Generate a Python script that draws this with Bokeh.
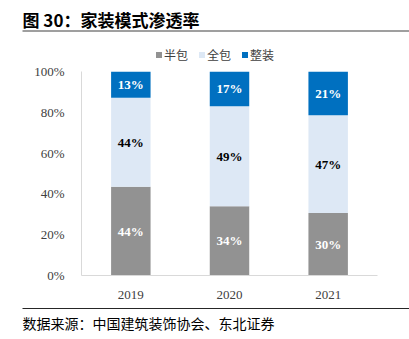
from bokeh.plotting import figure
from bokeh.models import (ColumnDataSource, Range1d, PrintfTickFormatter, FixedTicker)
from bokeh.core.properties import value
from bokeh.embed import file_html
from bokeh.resources import INLINE

years = ["2019", "2020", "2021"]
banbao = [44, 34, 30]      # 半包
quanbao = [44, 49, 47]     # 全包
zhengzhuang = [13, 17, 21] # 整装
series_names = ["半包", "全包", "整装"]
colors = ["#929292", "#dde8f5", "#0070c0"]
title_text = "图 30：家装模式渗透率"
source_text = "数据来源：中国建筑装饰协会、东北证券"

W, H = 409, 339
FL, FR, FT, FB = 81, 377, 71, 275  # frame edges in page pixels

xs = [i + 0.5 for i in range(len(years))]  # category centres
p = figure(x_range=Range1d(0, len(years)), y_range=Range1d(0, 100),
           width=W, height=H, output_backend="svg", toolbar_location=None,
           min_border_left=FL, min_border_right=W - FR, min_border_top=FT, min_border_bottom=H - FB)
p.outline_line_color = None
# page-pixel coordinate system for the header/footer decorations
p.extra_x_ranges = {"px": Range1d(FL, FR)}
p.extra_y_ranges = {"py": Range1d(FB, FT)}

tot = [a + b + c for a, b, c in zip(banbao, quanbao, zhengzhuang)]
s1 = [100 * a / t for a, t in zip(banbao, tot)]
s2 = [100 * b / t for b, t in zip(quanbao, tot)]
s3 = [100 * c / t for c, t in zip(zhengzhuang, tot)]
b1 = [0] * 3
t1 = s1
t2 = [a + b for a, b in zip(s1, s2)]
t3 = [a + b for a, b in zip(t2, s3)]

src = ColumnDataSource(dict(x=xs, b1=b1, t1=t1, t2=t2, t3=t3,
                            m1=[(a + b) / 2 for a, b in zip(b1, t1)],
                            m2=[(a + b) / 2 for a, b in zip(t1, t2)],
                            m3=[(a + b) / 2 for a, b in zip(t2, t3)],
                            l1=[f"{v}%" for v in banbao],
                            l2=[f"{v}%" for v in quanbao],
                            l3=[f"{v}%" for v in zhengzhuang]))

p.vbar(x="x", bottom="b1", top="t1", width=0.4, color=colors[0], line_color=None, source=src)
p.vbar(x="x", bottom="t1", top="t2", width=0.4, color=colors[1], line_color=None, source=src)
p.vbar(x="x", bottom="t2", top="t3", width=0.4, color=colors[2], line_color=None, source=src)

for ycol, lcol, c in [("m1", "l1", "white"), ("m2", "l2", "black"), ("m3", "l3", "white")]:
    p.text(x="x", y=ycol, text=lcol, source=src, text_align="center", text_baseline="middle",
           text_font=value("Liberation Serif"), text_font_style="bold", text_font_size="13px",
           text_color=c)

p.xgrid.grid_line_color = None
p.ygrid.grid_line_color = None
for ax in (p.xaxis[0], p.yaxis[0]):
    ax.axis_line_color = "#d9d9d9"
    ax.major_tick_line_color = None
    ax.minor_tick_line_color = None
    ax.major_label_text_font = "Liberation Serif"
    ax.major_label_text_font_size = "13px"
    ax.major_label_text_color = "#404040"
p.xaxis.ticker = FixedTicker(ticks=xs)
p.xaxis.major_label_overrides = {x: y for x, y in zip(xs, years)}
p.yaxis.ticker = FixedTicker(ticks=[0, 20, 40, 60, 80, 100])
p.yaxis.formatter = PrintfTickFormatter(format="%d%%")
p.yaxis.major_label_standoff = 11
p.xaxis.major_label_standoff = 9

deco = dict(x_range_name="px", y_range_name="py", level="overlay")

# header: title and rule
p.text(x=[22], y=[19], text=[title_text], text_font=value("Noto Sans CJK SC"),
       text_font_style="bold", text_font_size="17px", text_baseline="middle", text_color="black", **deco)
p.segment(x0=[22], y0=[30.5], x1=[W], y1=[30.5], line_color="#7f7f7f", line_width=1.5, **deco)

# legend
leg_x = [158.5, 201.5, 244.5]
p.rect(x=leg_x, y=[54.5] * 3, width=6, height=6, color=colors, line_color=None, **deco)
p.text(x=[x + 5 for x in leg_x], y=[54] * 3, text=series_names, text_font=value("Noto Sans CJK SC"),
       text_font_size="12px", text_baseline="middle", text_color="#404040", **deco)

# footer: rule and source
p.segment(x0=[22], y0=[308], x1=[W], y1=[308], line_color="#262626", line_width=1, **deco)
p.text(x=[22], y=[322.5], text=[source_text], text_font=value("Noto Sans CJK SC"),
       text_font_size="14px", text_baseline="middle", text_color="black", **deco)

out = open("out.html", "w")
out.write(file_html(p, INLINE))
out.close()
